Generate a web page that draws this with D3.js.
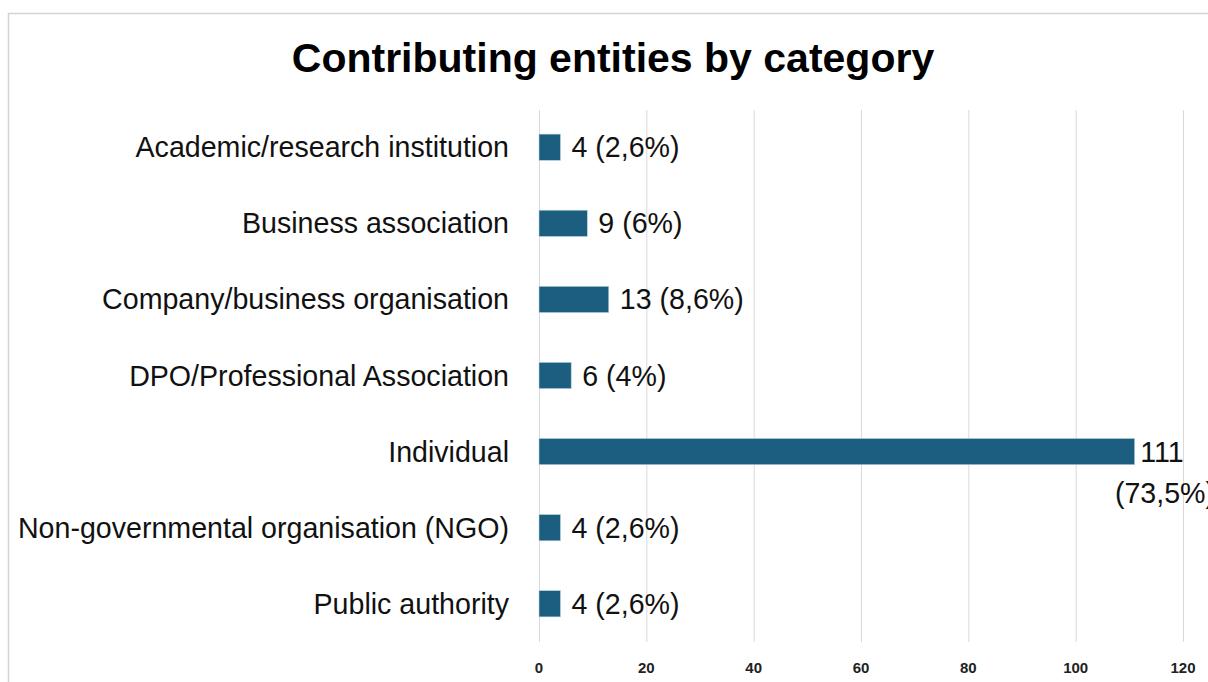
<!DOCTYPE html>
<html>
<head>
<meta charset="utf-8">
<script src="https://cdn.jsdelivr.net/npm/d3@7"></script>
<style>
  body { margin: 0; background: #fff; }
  text { font-family: "Liberation Sans Narrow", "Liberation Sans", Arial, sans-serif; }
</style>
</head>
<body>
<div id="chart"></div>
<script>
// data
var categories = ["Academic/research institution", "Business association", "Company/business organisation",
  "DPO/Professional Association", "Individual", "Non-governmental organisation (NGO)", "Public authority"];
var counts = [4, 9, 13, 6, 111, 4, 4];
var shares = ["2,6%", "6%", "8,6%", "4%", "73,5%", "2,6%", "2,6%"];
var xTicks = [0, 20, 40, 60, 80, 100, 120];

var width = 1208, height = 682;
var margin = {top: 109, right: 25, bottom: 40, left: 539};

var svg = d3.select("#chart").append("svg")
  .attr("width", width)
  .attr("height", height);

// chart frame (extends past the crop)
svg.append("rect")
  .attr("x", 8.5)
  .attr("y", 13.5)
  .attr("width", 1400)
  .attr("height", 900)
  .attr("fill", "#fff")
  .attr("stroke", "#d4d4d4")
  .attr("stroke-width", 1.5);

svg.append("text")
  .attr("x", 613)
  .attr("y", 72)
  .attr("text-anchor", "middle")
  .attr("font-size", "41px")
  .attr("font-weight", "bold")
  .attr("fill", "#000")
  .text("Contributing entities by category");

var x = d3.scaleLinear()
  .domain([0, 120])
  .range([margin.left, 1183]);

var y = d3.scaleBand()
  .domain(categories)
  .range([margin.top, 642])
  .paddingInner(0.655)
  .paddingOuter(0.33);

// gridlines
svg.append("g")
  .selectAll("line")
  .data(xTicks)
  .enter().append("line")
  .attr("x1", d => x(d) + 0.5)
  .attr("x2", d => x(d) + 0.5)
  .attr("y1", 110)
  .attr("y2", 642)
  .attr("stroke", "#d9d9d9")
  .attr("stroke-width", 1);

// x tick labels
svg.append("g")
  .selectAll("text")
  .data(xTicks)
  .enter().append("text")
  .attr("x", d => x(d))
  .attr("y", 673)
  .attr("text-anchor", "middle")
  .attr("font-size", "15px")
  .attr("font-weight", "bold")
  .attr("fill", "#222")
  .text(d => d);

// category labels
svg.append("g")
  .selectAll("text")
  .data(categories)
  .enter().append("text")
  .attr("x", 509)
  .attr("y", d => y(d) + y.bandwidth() / 2)
  .attr("dy", "0.35em")
  .attr("text-anchor", "end")
  .attr("font-size", "28.6px")
  .attr("fill", "#111")
  .text(d => d);

// bars
svg.append("g")
  .selectAll("rect")
  .data(categories)
  .enter().append("rect")
  .attr("x", x(0))
  .attr("y", d => y(d))
  .attr("width", (d, i) => x(counts[i]) - x(0))
  .attr("height", y.bandwidth())
  .attr("fill", "#1b5e80")
  .attr("stroke", "#bcd3df")
  .attr("stroke-width", 0.6);

// data labels
var labels = svg.append("g")
  .selectAll("text")
  .data(categories)
  .enter().append("text")
  .attr("font-size", "28.6px")
  .attr("fill", "#111");

labels.each(function(d, i) {
  var t = d3.select(this);
  var lx = x(counts[i]) + 11;
  var cy = y(d) + y.bandwidth() / 2;
  if (lx > 1000) {
    // wrapped label near the right edge
    t.attr("text-anchor", "middle");
    t.append("tspan").attr("x", 1162).attr("y", cy).attr("dy", "0.35em").text(counts[i]);
    t.append("tspan").attr("x", 1165).attr("y", cy + 41).attr("dy", "0.35em").text("(" + shares[i] + ")");
  } else {
    t.attr("x", lx).attr("y", cy).attr("dy", "0.35em")
      .text(counts[i] + " (" + shares[i] + ")");
  }
});
</script>
</body>
</html>
